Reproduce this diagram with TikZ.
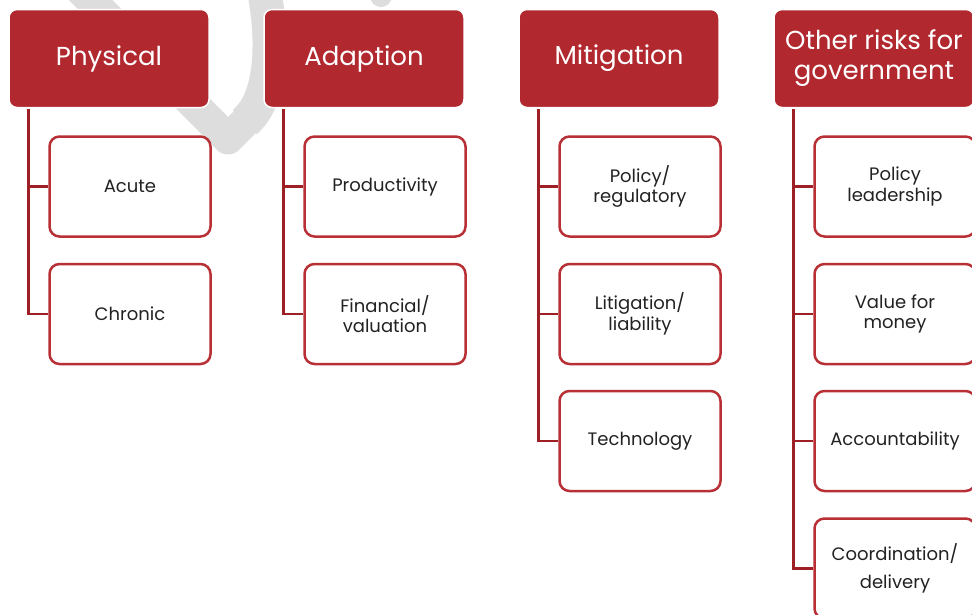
\documentclass[tikz,border=0pt]{standalone}
\usepackage{fontspec}
\setmainfont{Poppins}
\definecolor{hdr}{RGB}{177,41,47}
\definecolor{brd}{RGB}{184,48,54}
\definecolor{connc}{RGB}{158,31,36}
\definecolor{wm}{RGB}{221,221,221}
\definecolor{txt}{RGB}{34,34,34}
\begin{document}
\begin{tikzpicture}[x=1pt,y=-1pt,
 header/.style={draw=white, line width=1.5pt, fill=hdr, rounded corners=8pt,
   minimum width=200pt, minimum height=98pt, text=white,
   font=\fontsize{26}{30}\selectfont, align=center, inner sep=0pt},
 child/.style={draw=brd, line width=2.5pt, fill=white, rounded corners=10pt,
   minimum width=161pt, minimum height=100pt, text=txt,
   font=\fontsize{18}{20.5}\selectfont, align=center, inner sep=0pt},
 connline/.style={draw=connc, line width=2.5pt}]
\clip (0,0) rectangle (972,614);
\fill[white] (0,0) rectangle (972,614);
% watermark
\draw[wm, line width=31pt, line join=round] (66,-25) -- (228,139) -- (246,121);
\draw[wm, line width=34pt] (245,122) -- (248,119)
   .. controls (270,97) and (276,45) .. (262,-20);
\fill[wm] (381,-4) circle (11);
% headers
\node[header] (h1) at (109,58.5) {Physical};
\node[header] (h2) at (364,58.5) {Adaption};
\node[header] (h3) at (619,58.5) {Mitigation};
\node[header] (h4) at (874,58.5) {Other risks for\\government};
% children
\node[child] (c11) at (130,186.5) {Acute};
\node[child] (c12) at (130,314) {Chronic};
\node[child] (c21) at (385,186.5) {Productivity};
\node[child] (c22) at (385,314) {Financial/\\valuation};
\node[child] (c31) at (640,186.5) {Policy/\\regulatory};
\node[child] (c32) at (640,314) {Litigation/\\liability};
\node[child] (c33) at (640,441) {Technology};
\node[child] (c41) at (895,186.5) {Policy\\leadership};
\node[child] (c42) at (895,314) {Value for\\money};
\node[child] (c43) at (895,441) {Accountability};
\node[child] (c44) at (895,568.5) {Coordination/\\[8pt]delivery};
% connectors
\coordinate (s1) at ([xshift=20pt,yshift=-1pt]h1.south west);
\coordinate (s2) at ([xshift=20pt,yshift=-1pt]h2.south west);
\coordinate (s3) at ([xshift=20pt,yshift=-1pt]h3.south west);
\coordinate (s4) at ([xshift=20pt,yshift=-1pt]h4.south west);
\draw[connline] (s1) |- (c12.west);
\draw[connline] (s1) |- (c11.west);
\draw[connline] (s2) |- (c22.west);
\draw[connline] (s2) |- (c21.west);
\draw[connline] (s3) |- (c33.west);
\draw[connline] (s3) |- (c32.west);
\draw[connline] (s3) |- (c31.west);
\draw[connline] (s4) |- (c44.west);
\draw[connline] (s4) |- (c43.west);
\draw[connline] (s4) |- (c42.west);
\draw[connline] (s4) |- (c41.west);
\end{tikzpicture}
\end{document}
